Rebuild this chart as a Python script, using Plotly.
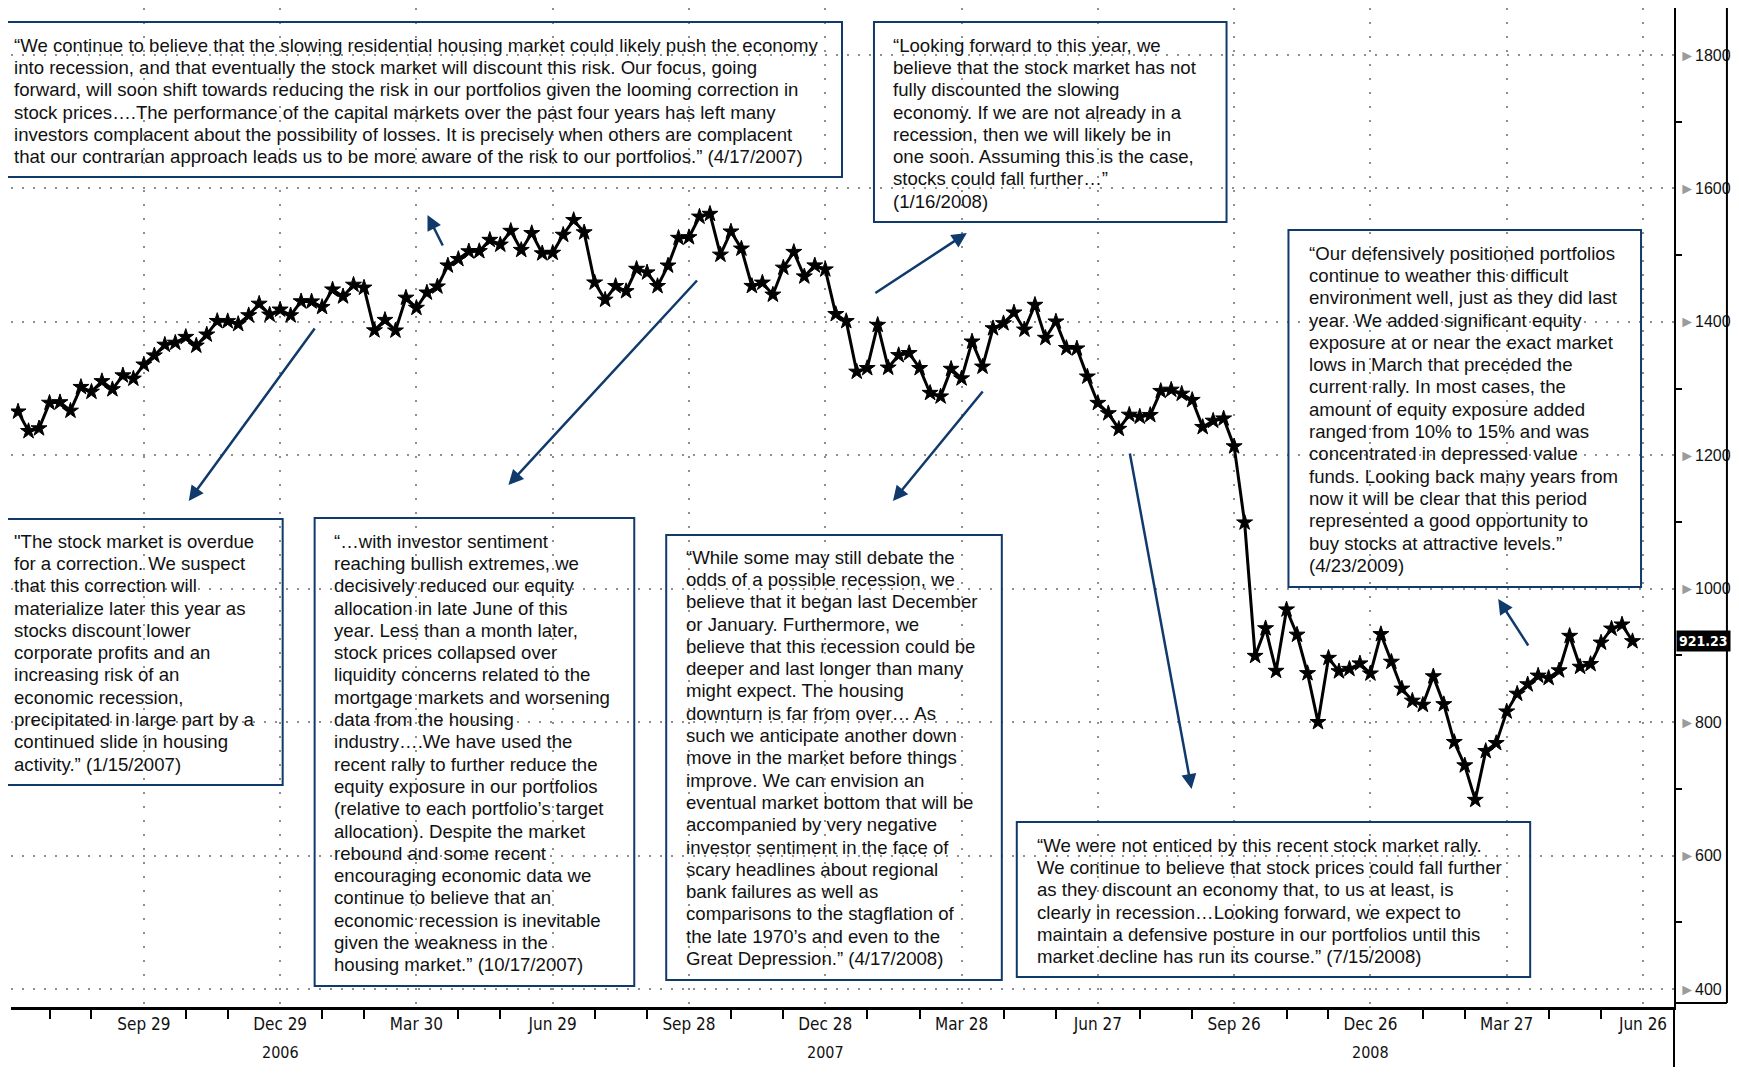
import pandas as pd
import plotly.graph_objects as go

# ---------------- data (weekly closes) ----------------
close_2006 = [1265.5, 1236.2, 1240.3, 1278.6, 1279.4, 1266.7, 1302.3, 1295.1,
              1311.0, 1298.9, 1319.7, 1314.8, 1335.9, 1349.6, 1365.6, 1368.6,
              1377.3, 1364.3, 1380.9, 1401.2, 1400.9, 1396.7, 1409.8, 1427.1,
              1410.8, 1418.3]
close_2007 = [1409.7, 1430.7, 1430.5, 1422.2, 1448.4, 1438.1, 1455.5, 1451.2,
              1387.2, 1402.8, 1386.9, 1436.1, 1420.9, 1443.8, 1452.9, 1484.4,
              1494.1, 1505.6, 1505.9, 1522.8, 1515.7, 1536.3, 1507.7, 1532.9,
              1502.6, 1503.4, 1530.4, 1552.5, 1534.1, 1458.9, 1433.1, 1453.6,
              1445.9, 1479.4, 1474.0, 1453.6, 1484.3, 1525.8, 1526.8, 1557.6,
              1561.8, 1500.6, 1535.3, 1509.7, 1453.7, 1458.7, 1440.7, 1481.1,
              1504.7, 1468.0, 1484.5, 1478.5]
close_2008 = [1411.6, 1401.0, 1325.2, 1330.6, 1395.4, 1331.3, 1350.0, 1353.1,
              1330.6, 1293.4, 1288.1, 1329.5, 1315.2, 1370.4, 1332.8, 1390.3,
              1397.8, 1413.9, 1388.3, 1425.4, 1375.9, 1400.4, 1360.7, 1360.0,
              1317.9, 1278.4, 1262.9, 1239.5, 1260.7, 1257.8, 1260.3, 1296.3,
              1298.2, 1292.2, 1282.8, 1242.3, 1251.7, 1255.1, 1213.3, 1099.2,
              899.2, 940.6, 876.8, 968.8, 931.0, 873.3, 800.0, 896.2,
              876.1, 879.7, 887.9, 872.8]
close_2009 = [931.8, 890.4, 850.1, 832.0, 825.9, 868.6, 826.8, 770.1,
              735.1, 683.4, 756.6, 768.5, 815.9, 842.5, 856.6, 869.6,
              866.2, 877.5, 929.2, 882.9, 887.0, 919.1, 940.1, 946.2,
              921.23]
closes = close_2006 + close_2007 + close_2008 + close_2009
dates = pd.date_range("2006-07-07", periods=len(closes), freq="W-FRI")

y_ticks = [400, 600, 800, 1000, 1200, 1400, 1600, 1800]
y_minor = [500, 700, 900, 1100, 1300, 1500, 1700]
year_labels = {"2006-12-29": "2006", "2007-12-28": "2007", "2008-12-26": "2008"}
last_value_label = "921.23"

quotes = [
    ["“We continue to believe that the slowing residential housing market could likely push the economy",
     "into recession, and that eventually the stock market will discount this risk. Our focus, going",
     "forward, will soon shift towards reducing the risk in our portfolios given the looming correction in",
     "stock prices….The performance of the capital markets over the past four years has left many",
     "investors complacent about the possibility of losses. It is precisely when others are complacent",
     "that our contrarian approach leads us to be more aware of the risk to our portfolios.” (4/17/2007)"],
    ["“Looking forward to this year, we", "believe that the stock market has not", "fully discounted the slowing",
     "economy. If we are not already in a", "recession, then we will likely be in", "one soon. Assuming this is the case,",
     "stocks could fall further…”", "(1/16/2008)"],
    ["“Our defensively positioned portfolios", "continue to weather this difficult", "environment well, just as they did last",
     "year. We added significant equity", "exposure at or near the exact market", "lows in March that preceded the",
     "current rally. In most cases, the", "amount of equity exposure added", "ranged from 10% to 15% and was",
     "concentrated in depressed value", "funds. Looking back many years from", "now it will be clear that this period",
     "represented a good opportunity to", "buy stocks at attractive levels.”", "(4/23/2009)"],
    ["\"The stock market is overdue", "for a correction. We suspect", "that this correction will",
     "materialize later this year as", "stocks discount lower", "corporate profits and an", "increasing risk of an",
     "economic recession,", "precipitated in large part by a", "continued slide in housing", "activity.” (1/15/2007)"],
    ["“…with investor sentiment", "reaching bullish extremes, we", "decisively reduced our equity",
     "allocation in late June of this", "year. Less than a month later,", "stock prices collapsed over",
     "liquidity concerns related to the", "mortgage markets and worsening", "data from the housing",
     "industry….We have used the", "recent rally to further reduce the", "equity exposure in our portfolios",
     "(relative to each portfolio’s target", "allocation). Despite the market", "rebound and some recent",
     "encouraging economic data we", "continue to believe that an", "economic recession is inevitable",
     "given the weakness in the", "housing market.” (10/17/2007)"],
    ["“While some may still debate the", "odds of a possible recession, we", "believe that it began last December",
     "or January. Furthermore, we", "believe that this recession could be", "deeper and last longer than many",
     "might expect. The housing", "downturn is far from over… As", "such we anticipate another down",
     "move in the market before things", "improve. We can envision an", "eventual market bottom that will be",
     "accompanied by very negative", "investor sentiment in the face of", "scary headlines about regional",
     "bank failures as well as", "comparisons to the stagflation of", "the late 1970’s and even to the",
     "Great Depression.” (4/17/2008)"],
    ["“We were not enticed by this recent stock market rally.", "We continue to believe that stock prices could fall further",
     "as they discount an economy that, to us at least, is", "clearly in recession…Looking forward, we expect to",
     "maintain a defensive posture in our portfolios until this", "market decline has run its course.” (7/15/2008)"],
]

# ---------------- layout geometry ----------------
# The page body has an 8px margin; positions below are page pixels.
# The figure is sized so the page never overflows the 1739x1075 window.
OFF = 8
W, H = 1739 - 2 * OFF, 1075 - 2 * OFF
PLOT_X0, PLOT_X1, PLOT_Y0, PLOT_Y1 = 11, 1676, OFF, 1007   # page pixels
L = PLOT_X0 - OFF
T = PLOT_Y0 - OFF
PW = PLOT_X1 - PLOT_X0
PH = PLOT_Y1 - PLOT_Y0
R = W - L - PW
B = H - T - PH


def px(X):
    return (X - PLOT_X0) / PW


def py(Y):
    return 1 - (Y - PLOT_Y0) / PH


NAVY = "#0f3a6b"
GRID = "#8e8e8e"
SANS = "Liberation Sans, Arial, sans-serif"
NARROW = "Liberation Sans Narrow, Arial Narrow, DejaVu Sans Condensed, sans-serif"
TEXT_PX = 18.6          # glyph size of the quotes
LINE_PX = 22.3          # line pitch of the quotes

# box rectangles (x0, y0, x1, y1) and text anchor (left, top of first line)
boxes = [
    ((5, 22, 843, 177), (13, 34)),
    ((875, 22, 1228, 222), (893, 34)),
    ((1290, 230, 1643, 587), (1310, 242)),
    ((-2, 519, 283, 785), (13, 530)),
    ((315, 518, 635, 986), (333, 530)),
    ((667, 535, 1003, 980), (686, 546)),
    ((1018, 822, 1532, 977), (1037, 834)),
]
# arrows: tail (x, y) -> head (x, y)
arrows = [
    (444, 247, 428, 215),
    (875, 294, 968, 233),
    (1531, 647, 1500, 599),
    (316, 327, 189, 501),
    (699, 279, 509, 485),
    (985, 390, 894, 501),
    (1131, 452, 1193, 789),
]

# tick positions: last Friday of each month
month_ends = pd.date_range("2006-07-31", "2009-06-30", freq="ME")
last_fridays = [me - pd.Timedelta(days=(me.weekday() - 4) % 7) for me in month_ends]
major = [d for d in last_fridays if d.month in (3, 6, 9, 12)]
minor = [d for d in last_fridays if d.month not in (3, 6, 9, 12)]
major_text = [f"{d:%b} {d.day}" for d in major]

# y range so that 1800 sits at page y=55 and 400 at page y=989
k = (989 - 55) / 1400.0
y_top = 1800 + (55 - PLOT_Y0) / k
y_bot = 400 - (PLOT_Y1 - 989) / k

fig = go.Figure()
fig.add_trace(go.Scatter(
    x=dates, y=closes, mode="lines+markers",
    line=dict(color="black", width=3),
    marker=dict(symbol="star", size=12, color="black", line=dict(width=1, color="black")),
    hoverinfo="skip", showlegend=False,
))

shapes = []
for (x0, y0, x1, y1), _ in boxes:
    shapes.append(dict(type="rect", xref="paper", yref="paper",
                       x0=px(x0), x1=px(x1), y0=py(y1), y1=py(y0),
                       line=dict(color=NAVY, width=2), fillcolor="rgba(0,0,0,0)"))
shapes += [
    dict(type="line", xref="paper", yref="paper", x0=px(1729), x1=px(1729), y0=py(OFF), y1=py(1003),
         line=dict(color="black", width=2)),
    dict(type="line", xref="paper", yref="paper", x0=px(1676), x1=px(1729), y0=py(1003), y1=py(1003),
         line=dict(color="black", width=2)),
    dict(type="line", xref="paper", yref="paper", x0=px(1676), x1=px(1676), y0=py(1007), y1=py(1067),
         line=dict(color="black", width=2)),
]

annotations = []
for (_, (tx, ty)), lines in zip(boxes, quotes):
    for i, line in enumerate(lines):
        annotations.append(dict(
            x=px(tx), y=py(ty + i * LINE_PX + LINE_PX / 2), xref="paper", yref="paper",
            xanchor="left", yanchor="middle", text=line, align="left", showarrow=False,
            borderpad=0, font=dict(family=SANS, size=TEXT_PX, color="#111111")))
for tx, ty, hx, hy in arrows:
    annotations.append(dict(
        x=px(hx), y=py(hy), xref="paper", yref="paper", ax=tx - hx, ay=ty - hy,
        axref="pixel", ayref="pixel", text="", showarrow=True, arrowhead=2,
        arrowsize=1.2, arrowwidth=2.5, arrowcolor=NAVY, standoff=0))
for d, yr in year_labels.items():
    annotations.append(dict(
        x=d, y=py(1052), xref="x", yref="paper", yanchor="middle", text=yr, showarrow=False,
        borderpad=0, font=dict(family=NARROW, size=16, color="#111111")))
annotations.append(dict(
    x=px(1678), y=closes[-1], xref="paper", yref="y", xanchor="left", yanchor="middle",
    text=f"<b>{last_value_label}</b>", showarrow=False, bgcolor="black", borderpad=2,
    font=dict(family=NARROW, size=14, color="white")))

fig.update_layout(
    width=W, height=H,
    margin=dict(l=L, r=R, t=T, b=B),
    paper_bgcolor="white", plot_bgcolor="white",
    showlegend=False,
    xaxis=dict(
        type="date", range=["2006-07-02 07:00", "2009-07-16 17:00"],
        tickvals=major, ticktext=major_text,
        showgrid=True, gridcolor=GRID, gridwidth=2, griddash="2px,12px",
        showline=True, linecolor="black", linewidth=3,
        ticks="", tickfont=dict(family=NARROW, size=17, color="#111111"),
        minor=dict(tickvals=minor, ticks="outside", ticklen=9, tickwidth=2,
                   tickcolor="black", showgrid=False),
        zeroline=False,
    ),
    yaxis=dict(
        side="right", range=[y_bot, y_top],
        tickvals=y_ticks,
        ticktext=[f"<span style='color:#9b9b9b'>►</span>{v}" for v in y_ticks],
        showgrid=True, gridcolor=GRID, gridwidth=2, griddash="2px,9px",
        showline=True, linecolor="black", linewidth=2,
        ticks="", tickfont=dict(family=SANS, size=16, color="#111111"),
        minor=dict(tickvals=y_minor, ticks="outside", ticklen=6, tickwidth=1.5,
                   tickcolor="black", showgrid=False),
        zeroline=False,
    ),
    shapes=shapes,
    annotations=annotations,
)

fig.write_html("out.html")
